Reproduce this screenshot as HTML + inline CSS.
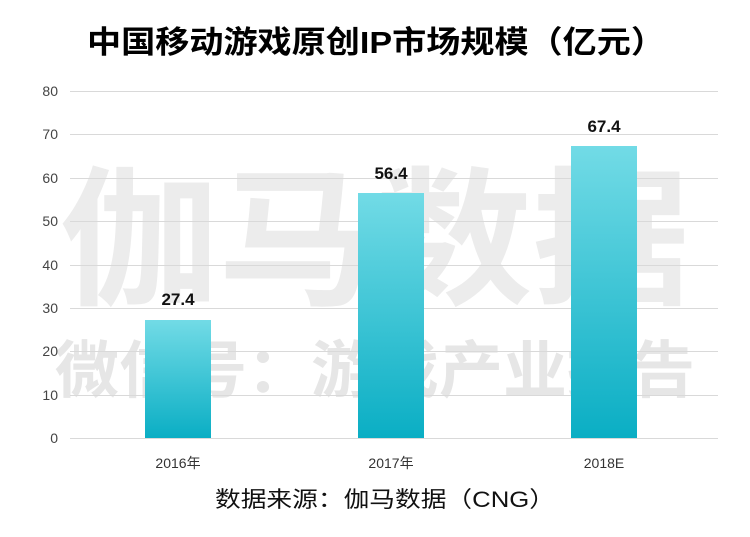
<!DOCTYPE html>
<html><head><meta charset="utf-8"><style>
body{margin:0;width:750px;height:532px;background:#fff;overflow:hidden}
</style></head><body>
<svg width="750" height="532" xmlns="http://www.w3.org/2000/svg" font-family="Liberation Sans, Noto Sans CJK SC, sans-serif">
<defs><linearGradient id="g" x1="0" y1="0" x2="0" y2="1">
<stop offset="0" stop-color="#72dbe6"/><stop offset="1" stop-color="#0aaec4"/></linearGradient></defs>
<text x="376" y="53" text-anchor="middle" font-size="31" font-weight="bold" fill="#000" textLength="578" lengthAdjust="spacingAndGlyphs">中国移动游戏原创IP市场规模（亿元）</text>
<text x="375" y="293" text-anchor="middle" font-size="150" font-weight="bold" fill="#ececec" textLength="630" lengthAdjust="spacingAndGlyphs">伽马数据</text>
<text x="375" y="392" text-anchor="middle" font-size="62" font-weight="bold" fill="#e6e6e6" textLength="640" lengthAdjust="spacingAndGlyphs">微信号：游戏产业报告</text>
<g stroke="#d9d9d9" stroke-width="1">
<line x1="70" y1="91.5" x2="718" y2="91.5"/><line x1="70" y1="134.5" x2="718" y2="134.5"/>
<line x1="70" y1="178.5" x2="718" y2="178.5"/><line x1="70" y1="221.5" x2="718" y2="221.5"/>
<line x1="70" y1="265.5" x2="718" y2="265.5"/><line x1="70" y1="308.5" x2="718" y2="308.5"/>
<line x1="70" y1="351.5" x2="718" y2="351.5"/><line x1="70" y1="395.5" x2="718" y2="395.5"/>
<line x1="70" y1="438.5" x2="718" y2="438.5"/></g>
<g font-size="14" fill="#444" text-anchor="end">
<text x="58" y="96">80</text><text x="58" y="139">70</text><text x="58" y="183">60</text>
<text x="58" y="226">50</text><text x="58" y="270">40</text><text x="58" y="313">30</text>
<text x="58" y="356">20</text><text x="58" y="400">10</text><text x="58" y="443">0</text></g>
<rect x="145" y="320" width="66" height="118" fill="url(#g)"/>
<rect x="358" y="193" width="66" height="245" fill="url(#g)"/>
<rect x="571" y="146" width="66" height="292" fill="url(#g)"/>
<g font-size="17" font-weight="bold" fill="#111" text-anchor="middle">
<text x="178" y="305">27.4</text><text x="391" y="179">56.4</text><text x="604" y="132">67.4</text></g>
<g font-size="14" fill="#333" text-anchor="middle">
<text x="178" y="468">2016年</text><text x="391" y="468">2017年</text><text x="604" y="468">2018E</text></g>
<text x="385" y="507" text-anchor="middle" font-size="22" fill="#111" textLength="340" lengthAdjust="spacingAndGlyphs">数据来源：伽马数据（CNG）</text>
</svg>
</body></html>
